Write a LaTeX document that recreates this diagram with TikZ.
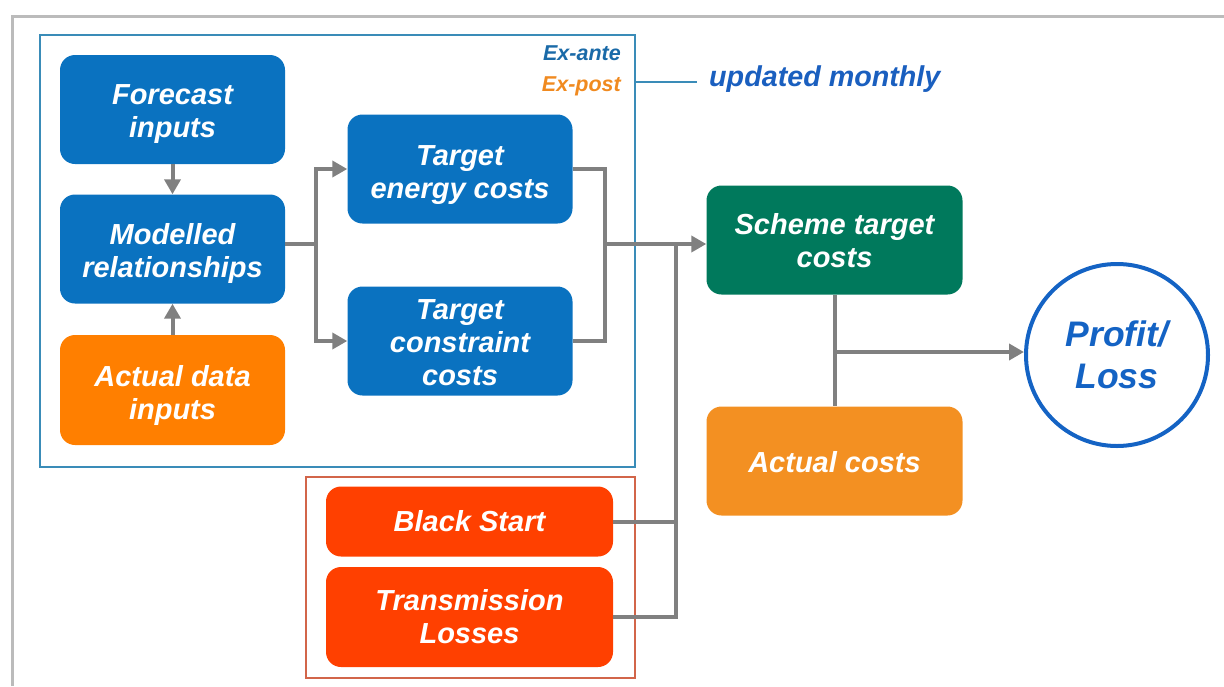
\documentclass[tikz,border=0pt]{standalone}
\usepackage{fontspec}
\setmainfont{Liberation Sans}
\usetikzlibrary{arrows.meta}
\definecolor{boxblue}{HTML}{0A72C0}
\definecolor{boxorange}{HTML}{FF7F00}
\definecolor{actorange}{HTML}{F39022}
\definecolor{boxgreen}{HTML}{00795C}
\definecolor{boxred}{HTML}{FF4000}
\definecolor{framegray}{HTML}{BBBBBB}
\definecolor{frameblue}{HTML}{3A8CB8}
\definecolor{framered}{HTML}{D2654A}
\definecolor{linegray}{HTML}{808080}
\definecolor{textblue}{HTML}{1A5FBF}
\definecolor{antecol}{HTML}{1A6AA8}
\definecolor{postcol}{HTML}{F08A20}
\definecolor{circblue}{HTML}{1463C4}
\tikzset{
  box/.style={rounded corners=15pt, inner sep=0pt},
  boxtext/.style={text=white, align=center, inner sep=0pt,
    font=\bfseries\itshape\fontsize{29}{33}\selectfont},
  conn/.style={draw=linegray, line width=4pt},
  arr/.style={conn, -{Triangle[length=15pt,width=16pt]}},
}
\begin{document}
\begin{tikzpicture}[x=1pt,y=-1pt]
\useasboundingbox (0,0) rectangle (1224,686);
% outer frame
\draw[framegray, line width=3pt] (12.5,686) -- (12.5,16.5) -- (1224,16.5);
% frames
\draw[frameblue, line width=1.2pt] (40,35) rectangle (635,467);
\draw[framered, line width=1.2pt] (306,477) rectangle (635,678);
% labels
\node[anchor=east, font=\bfseries\itshape\fontsize{21.5}{24}\selectfont, text=antecol, inner sep=0pt] (ante) at (621,53) {Ex-ante};
\node[anchor=east, font=\bfseries\itshape\fontsize{21.5}{24}\selectfont, text=postcol, inner sep=0pt] (post) at (621,86) {Ex-post};
\coordinate (lm) at (635,82);
\node[anchor=west, font=\bfseries\itshape\fontsize{28.7}{33}\selectfont, text=textblue, inner sep=0pt] (upd) at (709,79) {updated monthly};
\draw[frameblue, line width=1.2pt] (lm) -- (697,82);
% nodes
\node[box, fill=boxblue, minimum width=225pt, minimum height=109pt,
  label={[boxtext, yshift=-5pt]center:{Forecast\\inputs}}] (fc) at (172.5,109.5) {};
\node[box, fill=boxblue, minimum width=225pt, minimum height=109pt,
  label={[boxtext, yshift=-4pt]center:{Modelled\\relationships}}] (mr) at (172.5,249) {};
\node[box, fill=boxorange, minimum width=225pt, minimum height=110pt,
  label={[boxtext, yshift=-5pt]center:{Actual data\\inputs}}] (ad) at (172.5,390) {};
\node[box, fill=boxblue, minimum width=225pt, minimum height=109pt,
  label={[boxtext, yshift=-6pt]center:{Target\\energy costs}}] (te) at (460,169) {};
\node[box, fill=boxblue, minimum width=225pt, minimum height=109pt,
  label={[boxtext, yshift=-1.5pt]center:{Target\\constraint\\costs}}] (tc) at (460,341) {};
\node[box, fill=boxgreen, minimum width=256pt, minimum height=109pt,
  label={[boxtext, yshift=-1pt]center:{Scheme target\\costs}}] (sc) at (834.5,240) {};
\node[box, fill=actorange, minimum width=256pt, minimum height=109pt,
  label={[boxtext, yshift=-1pt]center:{Actual costs}}] (ac) at (834.5,461) {};
\node[box, fill=boxred, minimum width=287pt, minimum height=70pt,
  label={[boxtext]center:{Black Start}}] (bs) at (469.5,521.5) {};
\node[box, fill=boxred, minimum width=287pt, minimum height=100pt,
  label={[boxtext]center:{Transmission\\Losses}}] (tl) at (469.5,617) {};
\node[circle, draw=circblue, line width=4pt, minimum size=182pt, inner sep=0pt, align=center,
  text=circblue, font=\bfseries\itshape\fontsize{35.5}{42}\selectfont] (pl) at (1117,355) {Profit/\\Loss};
% junctions
\coordinate (j1) at (316,244);
\coordinate (j2) at (605,244);
\coordinate (j3) at (676,244);
\coordinate (j4) at (834,352);
% connectors
\draw[arr] (fc.south) -- (mr.north);
\draw[arr] (ad.north) -- (mr.south);
\draw[conn] (mr.east |- j1) -- (j1);
\draw[arr] (j1) |- (te.west);
\draw[arr] (j1) |- (tc.west);
\draw[conn] (te.east) -| (j2);
\draw[conn] (tc.east) -| (j2);
\draw[arr] (j2) -- (sc.west |- j2);
\draw[conn] (bs.east) -| (j3);
\draw[conn] (tl.east) -| (j3);
\draw[conn] (sc.south) -- (ac.north);
\draw[arr] (j4) -- (pl.west |- j4);
\end{tikzpicture}
\end{document}
